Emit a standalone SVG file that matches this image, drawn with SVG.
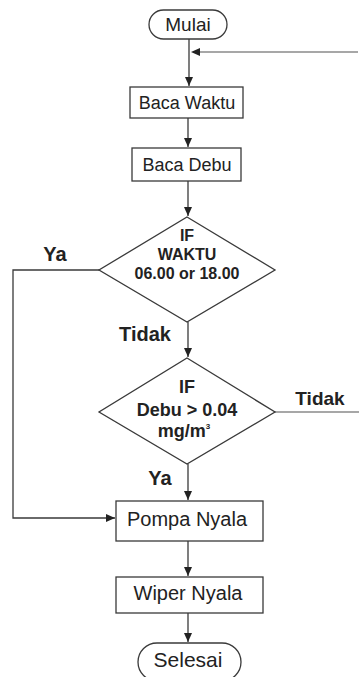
<svg xmlns="http://www.w3.org/2000/svg" width="359" height="677" viewBox="0 0 359 677">
<defs>
<style>
.shape{fill:#fff;stroke:#3a3a3a;stroke-width:1.3}
.t{font-family:"Liberation Sans",Arial,sans-serif;fill:#222;text-anchor:middle}
.n{font-size:18px}
.b{font-weight:bold}
.c{fill:none;stroke:#3a3a3a;stroke-width:1.3}
.g{fill:none;stroke:#8a8a8a;stroke-width:1.5}
</style>
<marker id="ah" markerWidth="10" markerHeight="8" refX="9" refY="4" orient="auto" markerUnits="userSpaceOnUse">
<path d="M0,0 L9,4 L0,8 Z" fill="#222"/>
</marker>
</defs>
<rect width="359" height="677" fill="#fff"/>
<g id="connectors">
<path class="c" d="M189,39 V86" marker-end="url(#ah)"/>
<path class="g" d="M358,52 H200"/>
<path d="M191,52 L200,48 L200,56 Z" fill="#222"/>
<path class="c" d="M188,118 V147" marker-end="url(#ah)"/>
<path class="c" d="M188,181 V216" marker-end="url(#ah)"/>
<path class="c" d="M188,322 V357" marker-end="url(#ah)"/>
<path class="c" d="M188,464 V500" marker-end="url(#ah)"/>
<path class="c" d="M99,270 H13 V518 H115" marker-end="url(#ah)"/>
<path class="g" d="M275,412 H359"/>
<path class="c" d="M188,541 V576" marker-end="url(#ah)"/>
<path class="c" d="M188,613 V642" marker-end="url(#ah)"/>
</g>
<g id="mulai">
<rect class="shape" x="149" y="10" width="78" height="29" rx="14.5"/>
<text class="t" x="188" y="31" font-size="19">Mulai</text>
</g>
<g id="baca-waktu">
<rect class="shape" x="130" y="87" width="113" height="31"/>
<text class="t n" x="187" y="109">Baca Waktu</text>
</g>
<g id="baca-debu">
<rect class="shape" x="132" y="148" width="109" height="33"/>
<text class="t n" x="187" y="171">Baca Debu</text>
</g>
<g id="if-waktu">
<polygon class="shape" points="187,217 275,270 187,322 99,270"/>
<text class="t b" x="187" y="241" font-size="16">IF</text>
<text class="t b" x="187" y="260" font-size="16">WAKTU</text>
<text class="t b" x="187" y="279" font-size="16">06.00 or 18.00</text>
<text class="t b" x="55" y="261" font-size="20">Ya</text>
<text class="t b" x="145" y="341" font-size="20">Tidak</text>
</g>
<g id="if-debu">
<polygon class="shape" points="187,358 275,412 187,464 99,412"/>
<text class="t b" x="187" y="393" font-size="18">IF</text>
<text class="t b" x="187" y="416" font-size="18">Debu &gt; 0.04</text>
<text class="t b" x="184" y="437" font-size="18">mg/m<tspan font-size="8" dy="-8">3</tspan></text>
<text class="t b" x="320" y="405" font-size="19">Tidak</text>
<text class="t b" x="160" y="485" font-size="20">Ya</text>
</g>
<g id="pompa-nyala">
<rect class="shape" x="116" y="501" width="147" height="40"/>
<text class="t" x="187" y="526" font-size="20">Pompa Nyala</text>
</g>
<g id="wiper-nyala">
<rect class="shape" x="116" y="577" width="147" height="36"/>
<text class="t" x="188" y="600" font-size="20">Wiper Nyala</text>
</g>
<g id="selesai">
<rect class="shape" x="138" y="643" width="103" height="38" rx="19"/>
<text class="t" x="188" y="667" font-size="21">Selesai</text>
</g>
</svg>
